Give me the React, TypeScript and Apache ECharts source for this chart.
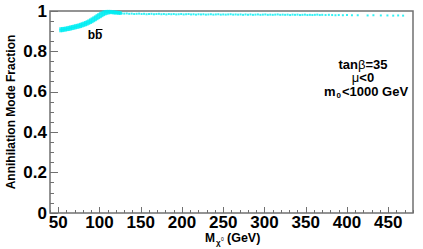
import React, { useEffect, useRef } from "react";
import * as echarts from "echarts";

const risingX = [53, 55, 57, 59, 61, 63, 65, 67, 69, 71, 73, 75, 77, 79, 81, 83, 85, 87, 89, 91, 93, 95, 97, 99, 101, 103, 105, 107, 109, 111, 113, 115, 117, 119, 121, 123, 125];
const risingLow = [0.902, 0.903, 0.905, 0.906, 0.908, 0.909, 0.911, 0.913, 0.915, 0.917, 0.919, 0.921, 0.923, 0.926, 0.929, 0.932, 0.935, 0.939, 0.943, 0.947, 0.952, 0.957, 0.962, 0.967, 0.972, 0.977, 0.982, 0.986, 0.989, 0.991, 0.992, 0.992, 0.991, 0.99, 0.99, 0.989, 0.988];
const risingHigh = [0.912, 0.913, 0.914, 0.915, 0.917, 0.919, 0.921, 0.923, 0.925, 0.927, 0.929, 0.931, 0.934, 0.937, 0.94, 0.943, 0.947, 0.951, 0.956, 0.961, 0.966, 0.971, 0.977, 0.982, 0.987, 0.991, 0.995, 0.997, 0.998, 0.998, 0.998, 0.997, 0.996, 0.995, 0.994, 0.993, 0.992];

const flatPoints: [number, number][] = [
  [127, 0.988], [130, 0.987], [133, 0.988], [136, 0.986], [139, 0.987], [142, 0.985], [145, 0.986], [148, 0.987], [151, 0.985], [154, 0.986],
  [157, 0.984], [160, 0.985], [163, 0.986], [166, 0.984], [169, 0.985], [172, 0.986], [175, 0.984], [178, 0.985], [181, 0.983], [184, 0.985],
  [187, 0.984], [190, 0.985], [193, 0.983], [196, 0.984], [199, 0.985], [202, 0.983], [205, 0.984], [208, 0.985], [211, 0.983], [214, 0.984],
  [217, 0.982], [220, 0.984], [223, 0.983], [226, 0.984], [229, 0.982], [232, 0.983], [235, 0.984], [238, 0.982], [241, 0.983], [244, 0.984],
  [247, 0.982], [250, 0.983], [253, 0.982], [256, 0.983], [259, 0.984], [262, 0.982], [265, 0.983], [268, 0.982], [271, 0.983], [274, 0.981],
  [277, 0.983], [280, 0.982], [283, 0.983], [286, 0.981], [289, 0.982], [292, 0.983], [295, 0.981], [298, 0.982], [301, 0.983], [304, 0.981],
  [307, 0.982], [310, 0.981], [313, 0.982], [316, 0.983], [319, 0.981], [322, 0.982], [325, 0.981], [328, 0.982], [331, 0.98], [334, 0.982],
  [337, 0.981], [340, 0.982], [343, 0.98], [346, 0.981], [349, 0.982], [352, 0.98], [355, 0.981], [358, 0.98], [361, 0.981], [364, 0.982],
  [367, 0.98], [370, 0.981], [374, 0.98], [378, 0.981], [382, 0.98], [386, 0.979], [390, 0.98], [395, 0.979], [400, 0.98], [406, 0.979],
  [413, 0.979], [425, 0.978], [432, 0.979], [441, 0.978], [449, 0.978], [456, 0.977], [462, 0.978], [468, 0.977],
];

const xMajorTicks = [50, 100, 150, 200, 250, 300, 350, 400, 450];

const FONT = "'Liberation Sans', Arial, Helvetica, sans-serif";
const CYAN = "#00eef2";

export default function App() {
  const ref = useRef<HTMLDivElement>(null);
  useEffect(() => {
    if (!ref.current) return;
    const chart = echarts.init(ref.current, undefined, { renderer: "svg" });
    const band: [number, number][] = [];
    risingX.forEach((x, i) => {
      band.push([x, risingLow[i]]);
      band.push([x, risingHigh[i]]);
    });
    chart.setOption({
      animation: false,
      backgroundColor: "#ffffff",
      grid: {
        left: 50,
        right: 10,
        top: 11,
        bottom: 36,
        show: true,
        borderColor: "#707070",
        borderWidth: 1.5,
        backgroundColor: "transparent",
      },
      xAxis: [
        {
          type: "value",
          min: 40,
          max: 480,
          interval: 10,
          axisLine: { show: false },
          splitLine: { show: false },
          axisTick: { show: true, inside: true, length: 3, lineStyle: { color: "#707070", width: 1 } },
          axisLabel: {
            formatter: (v: number) => (v % 50 === 0 ? String(v) : ""),
            fontSize: 17,
            fontWeight: "bold",
            fontFamily: FONT,
            color: "#000",
            margin: 2,
            lineHeight: 15,
          },
        },
        {
          type: "value",
          min: 40,
          max: 480,
          position: "bottom",
          axisLine: { show: false },
          splitLine: { show: false },
          axisLabel: { show: false },
          axisTick: {
            show: true,
            inside: true,
            length: 6,
            customValues: xMajorTicks,
            lineStyle: { color: "#707070", width: 1 },
          },
        },
      ],
      yAxis: {
        type: "value",
        min: 0,
        max: 1,
        interval: 0.2,
        axisLine: { show: false },
        splitLine: { show: false },
        axisTick: { show: true, inside: true, length: 8, lineStyle: { color: "#707070", width: 1 } },
        minorTick: { show: true, splitNumber: 4, length: 4, lineStyle: { color: "#707070", width: 1 } },
        axisLabel: {
          fontSize: 17,
          fontWeight: "bold",
          fontFamily: FONT,
          color: "#000",
          margin: 3,
        },
      },
      series: [
        {
          type: "scatter",
          xAxisIndex: 0,
          data: band,
          symbol: "rect",
          symbolSize: 3,
          itemStyle: { color: CYAN },
          silent: true,
        },
        {
          type: "scatter",
          xAxisIndex: 0,
          data: flatPoints,
          symbol: "rect",
          symbolSize: 2,
          itemStyle: { color: CYAN },
          silent: true,
        },
      ],
      graphic: [
        {
          type: "text",
          x: 11,
          y: 112,
          rotation: Math.PI / 2,
          style: {
            text: "Annihilation Mode Fraction",
            font: `bold 12px ${FONT}`,
            fill: "#000",
            align: "center",
            verticalAlign: "middle",
          },
        },
        {
          type: "text",
          x: 205,
          y: 237.5,
          style: { text: "M", font: `bold 12px ${FONT}`, fill: "#000", align: "left", verticalAlign: "middle", lineHeight: 7 },
        },
        {
          type: "text",
          x: 216,
          y: 242.5,
          style: { text: "χ", font: `bold 8px ${FONT}`, fill: "#000", align: "left", verticalAlign: "middle", lineHeight: 5 },
        },
        {
          type: "text",
          x: 221,
          y: 239,
          style: { text: "0", font: `5px ${FONT}`, fill: "#000", align: "left", verticalAlign: "middle", lineHeight: 4 },
        },
        {
          type: "text",
          x: 227,
          y: 237.5,
          style: { text: "(GeV)", font: `bold 12.5px ${FONT}`, fill: "#000", align: "left", verticalAlign: "middle", lineHeight: 7 },
        },
        {
          type: "text",
          x: 95,
          y: 35,
          style: { text: "bb", font: `bold 12px ${FONT}`, fill: "#000", align: "center", verticalAlign: "middle" },
        },
        {
          type: "line",
          shape: { x1: 96, y1: 29.5, x2: 102.5, y2: 29.5 },
          style: { stroke: "#000", lineWidth: 1 },
        },
        {
          type: "text",
          x: 363,
          y: 64,
          style: {
            text: "tan{b|β}=35",
            font: `bold 13px ${FONT}`,
            fill: "#000",
            align: "center",
            verticalAlign: "middle",
            lineHeight: 12,
            rich: { b: { fontWeight: "normal", fontSize: 13, fontFamily: FONT, lineHeight: 12 } },
          },
        },
        {
          type: "text",
          x: 363,
          y: 77.5,
          style: {
            text: "{m|μ}<0",
            font: `bold 13px ${FONT}`,
            fill: "#000",
            align: "center",
            verticalAlign: "middle",
            lineHeight: 12,
            rich: { m: { fontWeight: "normal", fontSize: 13, fontFamily: FONT, lineHeight: 12 } },
          },
        },
        {
          type: "text",
          x: 324,
          y: 91,
          style: { text: "m", font: `bold 13px ${FONT}`, fill: "#000", align: "left", verticalAlign: "middle", lineHeight: 12 },
        },
        {
          type: "text",
          x: 336.5,
          y: 95,
          style: { text: "0", font: `bold 8px ${FONT}`, fill: "#000", align: "left", verticalAlign: "middle", lineHeight: 7 },
        },
        {
          type: "text",
          x: 342,
          y: 91,
          style: { text: "<1000 GeV", font: `bold 13px ${FONT}`, fill: "#000", align: "left", verticalAlign: "middle", lineHeight: 12 },
        },
      ],
    });
    return () => chart.dispose();
  }, []);
  return <div ref={ref} style={{ width: 423, height: 249, position: "absolute", left: 0, top: 0 }} />;
}
